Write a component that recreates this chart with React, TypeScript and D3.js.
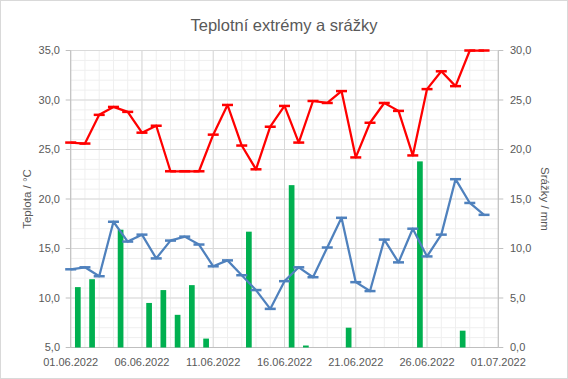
import React from "react";
import * as d3 from "d3";

const W = 568;
const H = 379;

const startDate = new Date(2022, 5, 1);
const endDate = new Date(2022, 6, 1);
const days = d3.range(30).map((i) => new Date(2022, 5, 1 + i));

const tMax = [25.7, 25.6, 28.5, 29.3, 28.8, 26.7, 27.4, 22.8, 22.8, 22.8, 26.5, 29.5, 25.4, 23.0, 27.3, 29.4, 25.7, 29.9, 29.7, 30.9, 24.2, 27.7, 29.7, 28.9, 24.4, 31.1, 32.9, 31.4, 35.0, 35.0];
const tMin = [12.9, 13.1, 12.2, 17.7, 15.7, 16.4, 14.0, 15.8, 16.2, 15.4, 13.2, 13.8, 12.3, 10.8, 8.9, 11.7, 13.1, 12.1, 15.1, 18.1, 11.6, 10.7, 15.9, 13.6, 17.0, 14.2, 16.4, 22.0, 19.6, 18.4];
const precip = [6.1, 6.9, 0, 11.9, 0, 4.5, 5.8, 3.3, 6.3, 0.9, 0, 0, 11.7, 0, 0, 16.4, 0.2, 0, 0, 2.0, 0, 0, 0, 0, 18.8, 0, 0, 1.7, 0, 0];

const leftTicks = [5, 10, 15, 20, 25, 30, 35];
const rightTicks = [0, 5, 10, 15, 20, 25, 30];
const xTickDates = [0, 5, 10, 15, 20, 25, 30].map((i) => new Date(2022, 5, 1 + i));

const title = "Teplotní extrémy a srážky";
const leftTitle = "Teplota / °C";
const rightTitle = "Srážky / mm";

const plot = { left: 70.7, right: 498.3, top: 50.5, bottom: 347.5 };

const cz = d3.formatLocale({ decimal: ",", thousands: " ", grouping: [3], currency: ["", " Kč"] });
const fmt = cz.format(".1f");
const dateFmt = d3.timeFormat("%d.%m.%Y");

const FONT = "'Liberation Sans', Arial, sans-serif";
const TXT = "#595959";

export default function App() {
  const x = d3.scaleTime().domain([startDate, endDate]).range([plot.left, plot.right]);
  const yL = d3.scaleLinear().domain([5, 35]).range([plot.bottom, plot.top]);
  const yR = d3.scaleLinear().domain([0, 30]).range([plot.bottom, plot.top]);
  const dayW = x(days[1]) - x(days[0]);
  const barW = 5.7;

  const minorY = d3.range(5, 36, 1);
  const minorX = d3.range(31).map((i) => new Date(2022, 5, 1 + i));

  const lineGen = (vals: number[]) =>
    d3
      .line<number>()
      .x((_, i) => x(days[i]))
      .y((v) => yL(v))(vals) || "";

  const markers = (vals: number[], color: string, key: string) =>
    vals.map((v, i) => (
      <line
        key={key + i}
        x1={x(days[i]) - 5.5}
        x2={x(days[i]) + 5.5}
        y1={yL(v)}
        y2={yL(v)}
        stroke={color}
        strokeWidth={2.5}
      />
    ));

  return (
    <svg width={W} height={H} style={{ position: "absolute", left: 0, top: 0, background: "#fff" }} fontFamily={FONT}>
      <rect x={0.5} y={0.5} width={W - 1} height={H - 1} fill="#fff" stroke="#d9d9d9" />
      <text x={284} y={31} textAnchor="middle" fontSize={16.5} fill={TXT}>
        {title}
      </text>

      {/* minor gridlines */}
      {minorY.map((v) => (
        <line key={"my" + v} x1={plot.left} x2={plot.right} y1={yL(v)} y2={yL(v)} stroke="#efefef" strokeWidth={1} />
      ))}
      {minorX.map((d, i) => (
        <line key={"mx" + i} x1={x(d)} x2={x(d)} y1={plot.top} y2={plot.bottom} stroke="#efefef" strokeWidth={1} />
      ))}
      {/* major gridlines */}
      {leftTicks.map((v) => (
        <line key={"gy" + v} x1={plot.left} x2={plot.right} y1={yL(v)} y2={yL(v)} stroke="#d9d9d9" strokeWidth={1} />
      ))}
      {xTickDates.map((d, i) => (
        <line key={"gx" + i} x1={x(d)} x2={x(d)} y1={plot.top} y2={plot.bottom} stroke="#d9d9d9" strokeWidth={1} />
      ))}

      {/* axes lines */}
      <line x1={plot.left} x2={plot.left} y1={plot.top} y2={plot.bottom} stroke="#bfbfbf" />
      <line x1={plot.right} x2={plot.right} y1={plot.top} y2={plot.bottom} stroke="#bfbfbf" />
      <line x1={plot.left} x2={plot.right} y1={plot.bottom} y2={plot.bottom} stroke="#bfbfbf" />
      {leftTicks.map((v) => (
        <line key={"lt" + v} x1={plot.left - 5} x2={plot.left} y1={yL(v)} y2={yL(v)} stroke="#bfbfbf" />
      ))}
      {rightTicks.map((v) => (
        <line key={"rt" + v} x1={plot.right} x2={plot.right + 5} y1={yR(v)} y2={yR(v)} stroke="#bfbfbf" />
      ))}

      {/* bars */}
      {precip.map((v, i) =>
        v > 0 ? (
          <rect
            key={"b" + i}
            x={x(days[i]) + dayW / 2 - barW / 2}
            y={yR(v)}
            width={barW}
            height={yR(0) - yR(v)}
            fill="#00b050"
          />
        ) : null
      )}

      {/* lines */}
      <path d={lineGen(tMin)} fill="none" stroke="#4f81bd" strokeWidth={2.25} strokeLinejoin="round" />
      {markers(tMin, "#4f81bd", "mn")}
      <path d={lineGen(tMax)} fill="none" stroke="#ff0000" strokeWidth={2.25} strokeLinejoin="round" />
      {markers(tMax, "#ff0000", "mx")}

      {/* tick labels */}
      {leftTicks.map((v) => (
        <text key={"ll" + v} x={60} y={yL(v)} dy="0.35em" textAnchor="end" fontSize={11} fill={TXT}>
          {fmt(v)}
        </text>
      ))}
      {rightTicks.map((v) => (
        <text key={"rl" + v} x={510} y={yR(v)} dy="0.35em" textAnchor="start" fontSize={11} fill={TXT}>
          {fmt(v)}
        </text>
      ))}
      {xTickDates.map((d, i) => (
        <text key={"xl" + i} x={x(d)} y={362} dy="0.35em" textAnchor="middle" fontSize={11} fill={TXT}>
          {dateFmt(d)}
        </text>
      ))}

      {/* axis titles */}
      <text transform={`translate(27,${(plot.top + plot.bottom) / 2}) rotate(-90)`} textAnchor="middle" dy="0.35em" fontSize={11.5} fill={TXT}>
        {leftTitle}
      </text>
      <text transform={`translate(545,${(plot.top + plot.bottom) / 2}) rotate(90)`} textAnchor="middle" dy="0.35em" fontSize={11.5} fill={TXT}>
        {rightTitle}
      </text>
    </svg>
  );
}
